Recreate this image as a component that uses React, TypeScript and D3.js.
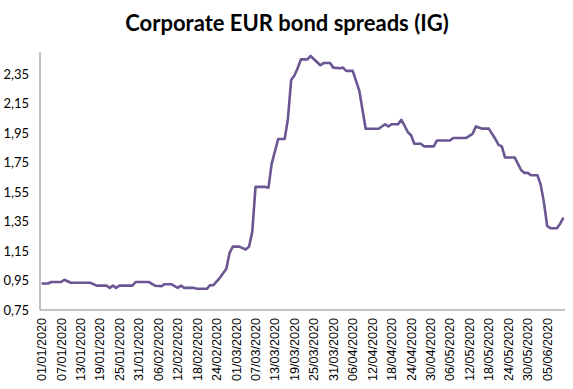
import * as d3 from "d3";

// spread readings (IG), date -> value
const dates = [
  "2020-01-01", "2020-01-03", "2020-01-04", "2020-01-07", "2020-01-08", "2020-01-10",
  "2020-01-16", "2020-01-18", "2020-01-21", "2020-01-22", "2020-01-23", "2020-01-24",
  "2020-01-25", "2020-01-29", "2020-01-30", "2020-02-03", "2020-02-05", "2020-02-07",
  "2020-02-08", "2020-02-10", "2020-02-12", "2020-02-13", "2020-02-14", "2020-02-17",
  "2020-02-18", "2020-02-21", "2020-02-22", "2020-02-23", "2020-02-25", "2020-02-27",
  "2020-02-28", "2020-02-29", "2020-03-02", "2020-03-04", "2020-03-05", "2020-03-06",
  "2020-03-07", "2020-03-10", "2020-03-11", "2020-03-12", "2020-03-14", "2020-03-16",
  "2020-03-17", "2020-03-18", "2020-03-19", "2020-03-20", "2020-03-21", "2020-03-23",
  "2020-03-24", "2020-03-27", "2020-03-28", "2020-03-30", "2020-03-31", "2020-04-02",
  "2020-04-03", "2020-04-04", "2020-04-06", "2020-04-08", "2020-04-10", "2020-04-14",
  "2020-04-16", "2020-04-17", "2020-04-18", "2020-04-20", "2020-04-21", "2020-04-22",
  "2020-04-23", "2020-04-24", "2020-04-25", "2020-04-27", "2020-04-28", "2020-05-01",
  "2020-05-02", "2020-05-06", "2020-05-07", "2020-05-11", "2020-05-13", "2020-05-14",
  "2020-05-16", "2020-05-18", "2020-05-20", "2020-05-21", "2020-05-22", "2020-05-23",
  "2020-05-26", "2020-05-28", "2020-05-29", "2020-05-30", "2020-05-31", "2020-06-02",
  "2020-06-03", "2020-06-04", "2020-06-05", "2020-06-06", "2020-06-08", "2020-06-09",
  "2020-06-10",
];
const spreads = [
  0.93, 0.93, 0.94, 0.94, 0.955, 0.935,
  0.935, 0.915, 0.915, 0.9, 0.915, 0.9,
  0.915, 0.915, 0.94, 0.94, 0.915, 0.912,
  0.925, 0.925, 0.9, 0.915, 0.9, 0.9,
  0.894, 0.894, 0.918, 0.918, 0.968, 1.03,
  1.137, 1.18, 1.18, 1.16, 1.18, 1.28,
  1.585, 1.585, 1.58, 1.743, 1.91, 1.91,
  2.046, 2.31, 2.34, 2.39, 2.45, 2.45,
  2.473, 2.41, 2.425, 2.425, 2.394, 2.39,
  2.394, 2.372, 2.372, 2.24, 1.979, 1.979,
  2.01, 1.995, 2.01, 2.01, 2.04, 2.0,
  1.956, 1.935, 1.878, 1.878, 1.86, 1.86,
  1.9, 1.9, 1.917, 1.917, 1.945, 1.995,
  1.98, 1.98, 1.91, 1.87, 1.86, 1.784,
  1.784, 1.698, 1.68, 1.68, 1.664, 1.664,
  1.6, 1.48, 1.32, 1.305, 1.305, 1.335,
  1.377,
];
const yTicks = [0.75, 0.95, 1.15, 1.35, 1.55, 1.75, 1.95, 2.15, 2.35];

const W = 573;
const H = 389;
const left = 40;
const right = 565;
const top = 52;
const bottom = 310;

export default function App() {
  const parse = d3.timeParse("%Y-%m-%d");
  const data = dates.map((d, i) => ({ date: parse(d)!, v: spreads[i] }));
  const start = parse("2020-01-01")!;
  const nDays = 162;
  const dayW = (right - left) / nDays;
  // each day is a slot, point sits in the middle of its slot
  const xScale = d3
    .scaleTime()
    .domain([start, d3.timeDay.offset(start, nDays)])
    .range([left, right]);
  const x = (d: Date) => xScale(d) + dayW / 2;
  const yScale = d3.scaleLinear().domain([0.75, 2.5]).range([bottom, top]);

  const line = d3
    .line<{ date: Date; v: number }>()
    .x((d) => x(d.date))
    .y((d) => yScale(d.v));

  const xTicks = d3.timeDay.range(start, d3.timeDay.offset(start, nDays), 6);
  const fmtX = d3.timeFormat("%d/%m/%Y");
  const fmtY = (v: number) => v.toFixed(2).replace(".", ",");

  return (
    <svg width={W} height={H} style={{ position: "absolute", left: 0, top: 0 }}>
      <rect width={W} height={H} fill="white" />
      <text
        x={287}
        y={31}
        textAnchor="middle"
        fontFamily="Lato, 'Open Sans', sans-serif"
        fontWeight="bold"
        fontSize={22}
        fill="#000"
      >
        Corporate EUR bond spreads (IG)
      </text>
      <line x1={left} x2={left} y1={top} y2={bottom} stroke="#868686" />
      <line x1={left} x2={right} y1={bottom} y2={bottom} stroke="#868686" />
      {yTicks.map((t) => (
        <text
          key={t}
          x={29}
          y={yScale(t) + 4.5}
          textAnchor="end"
          fontFamily="Lato, 'Open Sans', sans-serif"
          fontSize={13}
          fill="#000"
        >
          {fmtY(t)}
        </text>
      ))}
      {xTicks.map((t) => (
        <text
          key={t.getTime()}
          transform={`translate(${x(t) + 4.5},318) rotate(-90)`}
          textAnchor="end"
          fontFamily="'Liberation Sans', Arial, sans-serif"
          fontSize={12.6}
          fill="#000"
        >
          {fmtX(t)}
        </text>
      ))}
      <path
        d={line(data) ?? undefined}
        fill="none"
        stroke="#6b5694"
        strokeWidth={2.6}
        strokeLinejoin="round"
      />
    </svg>
  );
}
